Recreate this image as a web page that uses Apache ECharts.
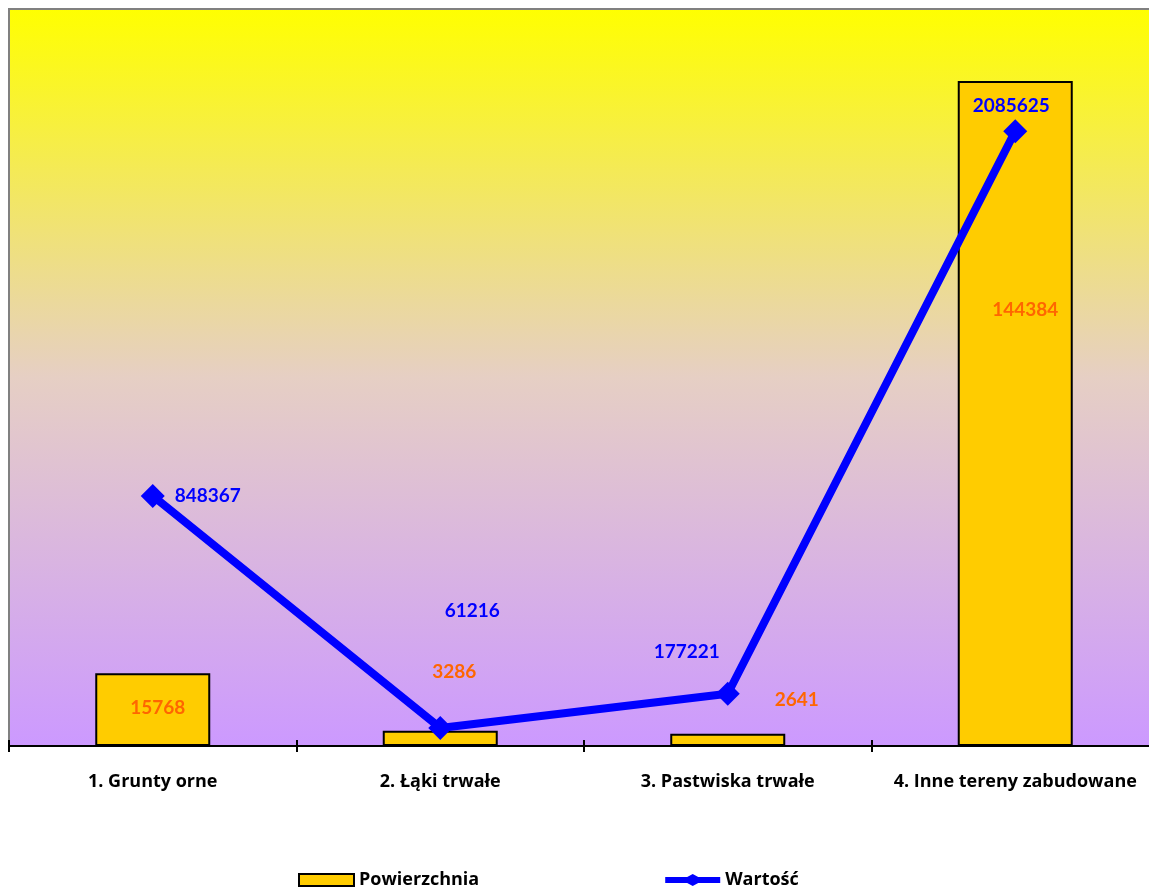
<!DOCTYPE html>
<html>
<head>
<meta charset="utf-8">
<script src="https://cdn.jsdelivr.net/npm/echarts@6/dist/echarts.min.js"></script>
<style>
  html, body { margin: 0; padding: 0; background: #fff; }
  #chart { width: 1149px; height: 888px; }
</style>
</head>
<body>
<div id="chart"></div>
<script>
var categories = ['1. Grunty orne', '2. Łąki trwałe', '3. Pastwiska trwałe', '4. Inne tereny zabudowane'];
var powierzchnia = [15768, 3286, 2641, 144384];
var wartosc = [848367, 61216, 177221, 2085625];

// label offsets (Excel labels were moved by hand)
var barLabelOffsets = [[5, -2], [14, -67], [69, -40], [10, -104]];
var lineLabelOffsets = [[55, 0], [32, -117], [-41, -42], [-4, -25]];

var numFont = 'Lato, "Open Sans", sans-serif';
var textFont = '"Open Sans", Lato, sans-serif';

// line + diamond legend marker
var lineIcon = 'path://M0,3 L22,3 L27.5,0 L33,3 L55,3 L55,9 L33,9 L27.5,12 L22,9 L0,9 Z';

var chart = echarts.init(document.getElementById('chart'));

var option = {
  animation: false,
  textStyle: { fontFamily: textFont },
  grid: {
    left: 9,
    top: 9,
    width: 1150,
    height: 737,
    containLabel: false,
    outerBoundsMode: 'none',
    show: true,
    borderColor: '#808080',
    borderWidth: 2,
    backgroundColor: new echarts.graphic.LinearGradient(0, 0, 0, 1, [
      { offset: 0, color: '#ffff00' },
      { offset: 0.5, color: '#e6cfc4' },
      { offset: 1, color: '#cc99ff' }
    ])
  },
  legend: {
    left: 293,
    top: 866,
    itemGap: 186,
    itemWidth: 55,
    itemHeight: 12,
    itemTextGap: 4,
    textStyle: { fontFamily: textFont, fontWeight: 'bold', fontSize: 18, color: '#000' },
    data: [
      { name: 'Powierzchnia', icon: 'rect', itemStyle: { borderColor: '#000', borderWidth: 2 } },
      { name: 'Wartość', icon: lineIcon, itemStyle: { color: '#0000ff', borderWidth: 0 } }
    ]
  },
  xAxis: [{
    type: 'category',
    data: categories,
    axisLine: { show: true, lineStyle: { color: '#000', width: 2 } },
    axisTick: { show: true, length: 6, lineStyle: { color: '#000', width: 2 } },
    axisLabel: {
      margin: 27,
      color: '#000',
      fontWeight: 'bold',
      fontSize: 18,
      fontFamily: textFont,
      interval: 0
    },
    splitLine: { show: false }
  }, {
    type: 'category',
    data: categories,
    position: 'bottom',
    axisLine: { show: false },
    axisTick: { show: true, inside: true, length: 6, lineStyle: { color: '#000', width: 2 } },
    axisLabel: { show: false },
    splitLine: { show: false }
  }],
  yAxis: [{
    type: 'value',
    min: 0,
    max: 160000,
    show: false,
    splitLine: { show: false }
  }, {
    type: 'value',
    min: 0,
    max: 2500000,
    show: false,
    splitLine: { show: false }
  }],
  series: [{
    name: 'Powierzchnia',
    type: 'bar',
    barWidth: '40%',
    itemStyle: { color: '#ffcc00', borderColor: '#000', borderWidth: 2 },
    label: {
      show: true,
      position: 'inside',
      color: '#ff6600',
      fontWeight: 'bold',
      fontSize: 19,
      fontFamily: numFont
    },
    data: powierzchnia.map(function (v, i) {
      return { value: v, label: { offset: barLabelOffsets[i] } };
    })
  }, {
    name: 'Wartość',
    type: 'line',
    yAxisIndex: 1,
    symbol: 'diamond',
    symbolSize: 24,
    lineStyle: { color: '#0000ff', width: 8 },
    itemStyle: { color: '#0000ff' },
    z: 5,
    label: {
      show: true,
      position: 'inside',
      color: '#0000ff',
      fontWeight: 'bold',
      fontSize: 19,
      fontFamily: numFont
    },
    data: wartosc.map(function (v, i) {
      return { value: v, label: { offset: lineLabelOffsets[i] } };
    })
  }]
};

chart.setOption(option);
</script>
</body>
</html>
